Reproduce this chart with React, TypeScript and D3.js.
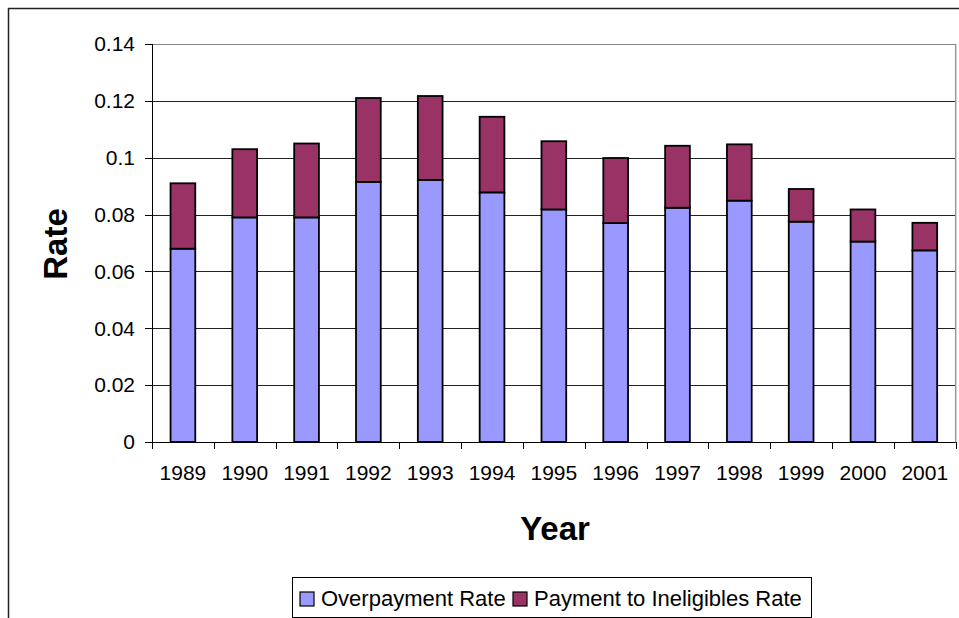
import React from "react";
import * as d3 from "d3";

const years = ["1989","1990","1991","1992","1993","1994","1995","1996","1997","1998","1999","2000","2001"];
const overpayment = [0.068,0.079,0.079,0.0915,0.0922,0.0878,0.0818,0.077,0.0824,0.0849,0.0775,0.0705,0.0674];
const ineligibles = [0.023,0.024,0.026,0.0295,0.0295,0.0266,0.024,0.0229,0.0218,0.0198,0.0115,0.0113,0.0097];
const yTicks = [0,0.02,0.04,0.06,0.08,0.1,0.12,0.14];
const seriesNames = ["Overpayment Rate","Payment to Ineligibles Rate"];
const colors = ["#9999FF","#993366"];

const W = 959, H = 618;
const PL = 152, PR = 955.7, PT = 44, PB = 442;
const FONT = "'Liberation Sans', Arial, sans-serif";

export default function App() {
  const x = d3.scaleBand<string>().domain(years).range([PL, PR]).padding(0);
  const y = d3.scaleLinear().domain([0, 0.14]).range([PB, PT]);
  const bw = x.bandwidth() * 0.4;
  const stacked = d3.stack<any>().keys(["a","b"])(years.map((yr,i)=>({yr, a: overpayment[i], b: ineligibles[i]})));
  const fmt = (v:number)=> v===0 ? "0" : String(+v.toFixed(2));
  const crisp = (v:number)=> Math.round(v)+0.5;
  return (
    <svg width={W} height={H} style={{position:"absolute",left:0,top:0,display:"block",background:"#fff"}} fontFamily={FONT}>
      <rect x={8.5} y={8.5} width={W+20} height={H+20} fill="#fff" stroke="#222" strokeWidth={1.5}/>
      {yTicks.map(t=>(
        <g key={t}>
          {t>0 && <line x1={PL} x2={PR} y1={crisp(y(t))} y2={crisp(y(t))} stroke={t===0.14?"#888":"#222"} strokeWidth={1}/>}
          <line x1={PL-7} x2={PL} y1={crisp(y(t))} y2={crisp(y(t))} stroke="#000"/>
          <text x={135} y={y(t)} dy="0.35em" textAnchor="end" fontSize={21} fill="#000">{fmt(t)}</text>
        </g>
      ))}
      <line x1={PR} x2={PR} y1={PT} y2={PB} stroke="#999" strokeWidth={1.5}/>
      {stacked.map((s,si)=>(
        <g key={si}>
          {s.map((d,i)=>{
            const cx = (x(years[i]) as number) + x.bandwidth()/2;
            return <rect key={i} x={cx-bw/2} y={y(d[1])} width={bw} height={y(d[0])-y(d[1])} fill={colors[si]} stroke="#000" strokeWidth={1.8}/>;
          })}
        </g>
      ))}
      <line x1={PL+0.5} x2={PL+0.5} y1={PT} y2={PB} stroke="#000" strokeWidth={1}/>
      <line x1={PL} x2={PR} y1={crisp(PB)} y2={crisp(PB)} stroke="#000" strokeWidth={1}/>
      {years.map((yr,i)=>(
        <g key={yr}>
          <line x1={crisp(x(yr) as number)} x2={crisp(x(yr) as number)} y1={PB} y2={PB+7} stroke="#000"/>
          {i===years.length-1 && <line x1={crisp(PR)} x2={crisp(PR)} y1={PB} y2={PB+7} stroke="#000"/>}
          <text x={(x(yr) as number)+x.bandwidth()/2} y={480} textAnchor="middle" fontSize={21} fill="#000">{yr}</text>
        </g>
      ))}
      <text x={555} y={540} textAnchor="middle" fontSize={33} fontWeight="bold" fill="#000">Year</text>
      <text transform={`translate(67,244) rotate(-90)`} textAnchor="middle" fontSize={33} fontWeight="bold" fill="#000">Rate</text>
      <rect x={292.5} y={577.5} width={519} height={40} fill="#fff" stroke="#000" strokeWidth={1}/>
      {seriesNames.map((n,i)=>{
        const sx = i===0 ? 300 : 513;
        return (
          <g key={n}>
            <rect x={sx} y={592} width={14} height={14} fill={colors[i]} stroke="#000" strokeWidth={1.2}/>
            <text x={sx+21} y={606} fontSize={22} fill="#000">{n}</text>
          </g>
        );
      })}
    </svg>
  );
}
